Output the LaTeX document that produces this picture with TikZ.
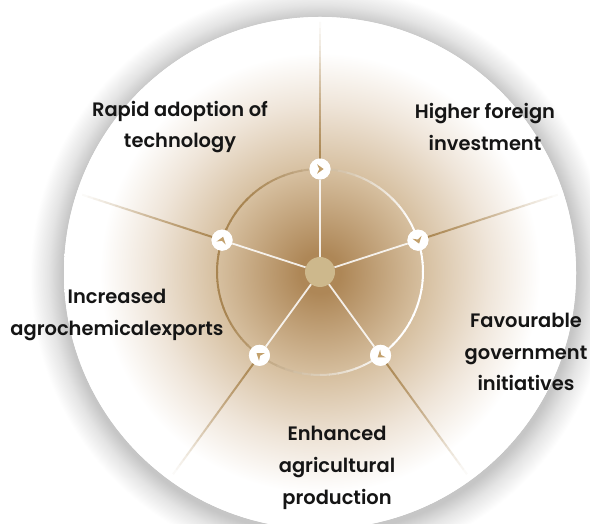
\documentclass[tikz,border=0pt]{standalone}
\usepackage{fontspec}
\setmainfont{Poppins}[UprightFont=* SemiBold]
\usetikzlibrary{calc}
\definecolor{cA}{HTML}{AE8757}
\definecolor{cB}{HTML}{D6BF9F}
\definecolor{cC}{HTML}{EFE5D9}
\definecolor{shd}{HTML}{C6C6C6}
\definecolor{shdb}{HTML}{E4E4E4}
\definecolor{ringbrown}{HTML}{A88552}
\definecolor{spokebrown}{HTML}{A9854F}
\definecolor{chevcol}{HTML}{C2A06C}
\definecolor{hubcol}{HTML}{CDB88C}
\definecolor{txt}{HTML}{151515}
\pgfdeclareradialshading{bgshade}{\pgfpoint{0bp}{0bp}}{color(0bp)=(cA); color(2bp)=(cA); color(10bp)=(cB); color(16.5bp)=(cC); color(21.5bp)=(white); color(50bp)=(white)}
\pgfdeclareradialshading{shadowshade}{\pgfpoint{0bp}{0bp}}{color(0bp)=(shd); color(22.2bp)=(shd); color(23.4bp)=(shdb); color(25bp)=(white); color(50bp)=(white)}
\tikzset{
  lbl/.style={text=txt, align=center, font=\fontsize{19.5}{32}\selectfont},
  marker/.style={circle, fill=white, minimum size=21bp, inner sep=0pt},
  hub/.style={circle, fill=hubcol, minimum size=30bp, inner sep=0pt},
  spokein/.style={draw=white, line width=1.8bp, opacity=0.85},
  spokeout/.style={draw=spokebrown, line width=2bp},
}
\begin{document}
\begin{tikzpicture}[x=1bp,y=1bp]
\useasboundingbox (0,0) rectangle (590,524);
\fill[white] (0,0) rectangle (590,524);
% shadow and disc
\shade[shading=shadowshade] (320,248) circle (290);
\fill[white] (320,251) circle (256);
\shade[shading=bgshade] (320,251) circle (256);
\coordinate (O) at (320,252);
\foreach \i/\a in {1/90,2/18,3/-54,4/-126,5/162}{
  \coordinate (e\i) at ($(O)+(\a:250)$);
}
% ring
\foreach \a in {0,5,...,355}{
  \pgfmathsetmacro\p{max(0,min(100,50+60*cos(\a+2.5-170)))}
  \draw[color=ringbrown!\p!white, line width=2bp] ($(O)+(\a:103)$) arc[start angle=\a, end angle=\a+5.5, radius=103];
}
\node[hub] (c) at (O) {};
\foreach \i/\a in {1/90,2/18,3/-54,4/-126,5/162}{
  \node[marker] (m\i) at ($(O)+(\a:103)$) {};
}
% outer spokes with fade
\foreach \i in {1,...,5}{
  \foreach \k in {0,...,24}{
    \pgfmathsetmacro\op{1-\k/25}
    \draw[spokeout, draw opacity=\op] ($(m\i)!{\k/25}!(e\i)$) -- ($(m\i)!{(\k+1)/25}!(e\i)$);
  }
}
% inner spokes, markers, chevrons
\foreach \i/\a in {1/90,2/18,3/-54,4/-126,5/162}{
  \draw[spokein] (c) -- (m\i);
  \node[marker] at (m\i) {};
  \begin{scope}[shift={(m\i)}, rotate=\a-90]
    \fill[chevcol] (-3,4.8) -- (3.6,0) -- (-3,-4.8) -- (-0.7,0) -- cycle;
  \end{scope}
}
% labels
\node[lbl] (t1) at (180,397) {Rapid adoption of\\technology};
\node[lbl] (t2) at (485,397) {Higher foreign\\investment};
\node[lbl] (t3) at (117,209) {Increased\\agrochemicalexports};
\node[lbl] (t4) at (526,172) {Favourable\\government\\initiatives};
\node[lbl] (t5) at (337,56) {Enhanced\\agricultural\\production};
\end{tikzpicture}
\end{document}
